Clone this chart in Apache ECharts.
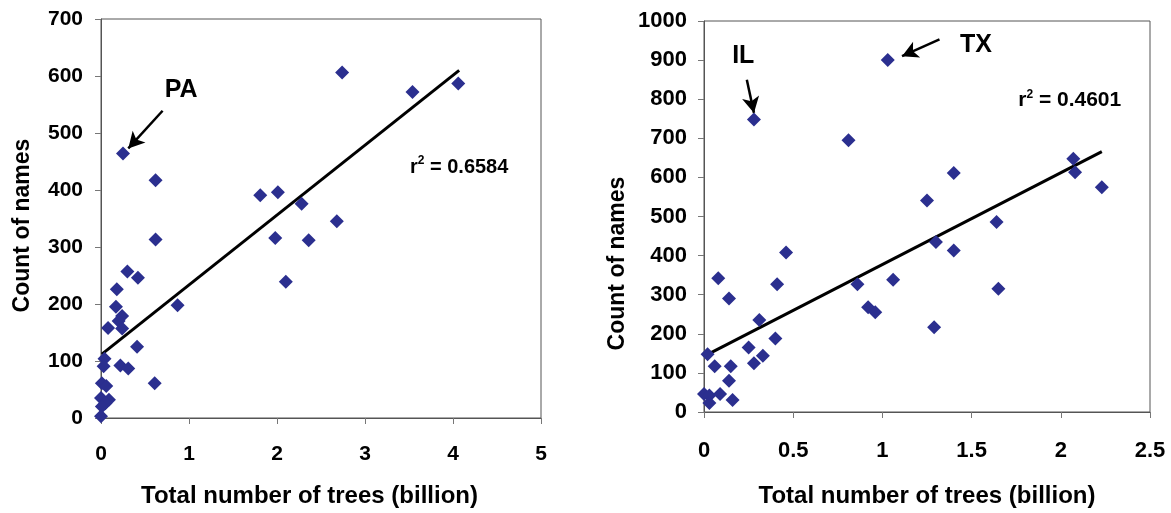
<!DOCTYPE html>
<html>
<head>
    <meta charset="utf-8">
    <title>Count of names vs total number of trees</title>
    <script src="https://cdn.jsdelivr.net/npm/echarts@6/dist/echarts.min.js"></script>
    <style>
        html, body { margin: 0; padding: 0; background: #fff; }
    </style>
</head>
<body>
    <div id="main" style="width: 1171px;height:513px;"></div>
    <script>
        // left panel data (billion trees, count of names)
        var leftTrees = [0.25, 0.62, 0.62, 1.81, 2.01, 1.98, 2.28, 2.74, 3.54, 4.06, 2.36, 2.68,
                         2.10, 0.87, 0.61, 0.30, 0.42, 0.18, 0.17, 0.24, 0.20, 0.24, 0.08, 0.41,
                         0.22, 0.31, 0.04, 0.03, 0.01, 0.06, 0.00, 0.09, 0.05, 0.01, 0.00];
        var leftNames = [464, 417, 313, 391, 396, 316, 376, 606, 572, 587, 312, 345,
                         239, 198, 61, 257, 246, 226, 195, 179, 170, 157, 158, 125,
                         92, 87, 104, 91, 61, 56, 35, 32, 26, 20, 3];
        var leftFitTrees = [0.01, 4.07];
        var leftFitNames = [112, 610];

        // right panel data
        var rightTrees = [0.00, 0.03, 0.03, 0.09, 0.16, 0.14, 0.06, 0.15, 0.02, 0.08, 0.14, 0.25,
                          0.28, 0.33, 0.31, 0.40, 0.41, 0.46, 0.28, 1.03, 0.81, 1.40, 1.25, 2.07,
                          2.08, 2.23, 1.64, 1.30, 1.40, 0.86, 1.06, 0.92, 0.96, 1.65, 1.29];
        var rightNames = [46, 42, 23, 46, 31, 80, 117, 117, 148, 342, 290, 165,
                          125, 144, 235, 188, 327, 408, 748, 900, 695, 611, 541, 648,
                          613, 575, 486, 435, 413, 327, 338, 268, 255, 315, 217];
        var rightFitTrees = [0.01, 2.23];
        var rightFitNames = [145, 666];

        var leftXTicks = [0, 5, 1];
        var leftYTicks = [0, 700, 100];
        var rightXTicks = [0, 2.5, 0.5];
        var rightYTicks = [0, 1000, 100];

        // annotations (data units)
        var leftR2 = '0.6584';
        var rightR2 = '0.4601';
        var leftTexts = [[0.91, 576, 'PA'], [4.07, 442, 'r2']];
        var rightTexts = [[0.22, 910, 'IL'], [1.525, 938, 'TX'], [2.05, 799, 'r2']];
        var leftArrows = [[[0.70, 539], [0.31, 473]]];
        var rightArrows = [[[0.24, 850], [0.28, 765]], [[1.32, 953], [1.11, 910]]];

        var FONT = 'Liberation Sans, Arial, sans-serif';
        var DOT = '#2b2f8f';

        function pairs(xs, ys) {
            return xs.map(function (x, i) { return [x, ys[i]]; });
        }

        function plain(v) { return String(v); }

        function xAxisOf(idx, ticks, labelSize, margin, gap, pad) {
            return {
                gridIndex: idx, type: 'value',
                min: ticks[0], max: ticks[1], interval: ticks[2],
                name: 'Total number of trees (billion)',
                nameLocation: 'middle', nameGap: gap,
                nameTextStyle: { fontFamily: FONT, fontWeight: 'bold', fontSize: 24, color: '#000', padding: pad },
                axisLine: { onZero: false, lineStyle: { color: '#555', width: 1 } },
                axisTick: { show: true, inside: false, length: 6, lineStyle: { color: '#777' } },
                axisLabel: { fontFamily: FONT, fontWeight: 'bold', fontSize: labelSize, color: '#000', margin: margin, formatter: plain },
                splitLine: { show: false }
            };
        }

        function yAxisOf(idx, ticks, labelSize, margin, gap, pad) {
            return {
                gridIndex: idx, type: 'value',
                min: ticks[0], max: ticks[1], interval: ticks[2],
                name: 'Count of names',
                nameLocation: 'middle', nameGap: gap,
                nameTextStyle: { fontFamily: FONT, fontWeight: 'bold', fontSize: 23, color: '#000', padding: pad },
                axisLine: { onZero: false, lineStyle: { color: '#555', width: 1 } },
                axisTick: { show: true, inside: false, length: 6, lineStyle: { color: '#777' } },
                axisLabel: { fontFamily: FONT, fontWeight: 'bold', fontSize: labelSize, color: '#000', margin: margin, formatter: plain },
                splitLine: { show: false }
            };
        }

        function textSeries(idx, items, r2, size) {
            return {
                type: 'scatter', xAxisIndex: idx, yAxisIndex: idx,
                silent: true, symbolSize: 0, z: 5,
                itemStyle: { opacity: 1 },
                data: items,
                label: {
                    show: true, position: 'inside',
                    color: '#000', textBorderWidth: 0,
                    formatter: function (p) {
                        if (p.value[2] === 'r2') return '{b|r}{s|2}{b| = ' + r2 + '}';
                        return '{n|' + p.value[2] + '}';
                    },
                    rich: {
                        n: { fontFamily: FONT, fontWeight: 'bold', fontSize: 25, color: '#000', textBorderWidth: 0 },
                        b: { fontFamily: FONT, fontWeight: 'bold', fontSize: size, color: '#000', textBorderWidth: 0, lineHeight: 22, verticalAlign: 'bottom' },
                        s: { fontFamily: FONT, fontWeight: 'bold', fontSize: 12, color: '#000', textBorderWidth: 0, lineHeight: 22, verticalAlign: 'top' }
                    }
                }
            };
        }

        function arrowSeries(idx, arrows) {
            return {
                type: 'line', xAxisIndex: idx, yAxisIndex: idx,
                data: [], silent: true,
                markLine: {
                    silent: true, animation: false,
                    symbol: ['none', 'arrow'], symbolSize: [13, 16],
                    label: { show: false },
                    lineStyle: { color: '#000', width: 2.5, type: 'solid', opacity: 1 },
                    data: arrows.map(function (a) { return [{ coord: a[0] }, { coord: a[1] }]; })
                }
            };
        }

        function fitSeries(idx, xs, ys) {
            return {
                type: 'line', xAxisIndex: idx, yAxisIndex: idx,
                data: pairs(xs, ys), showSymbol: false, silent: true, z: 3,
                lineStyle: { color: '#000', width: 3 }
            };
        }

        function dotSeries(idx, xs, ys) {
            return {
                type: 'scatter', xAxisIndex: idx, yAxisIndex: idx,
                data: pairs(xs, ys), symbol: 'diamond', symbolSize: 14, z: 4,
                itemStyle: { color: DOT, opacity: 1 }
            };
        }

        var myChart = echarts.init(document.getElementById('main'));

        var option = {
            backgroundColor: '#fff',
            animation: false,
            grid: [
                { left: 101, top: 19, width: 440, height: 404, show: true, borderColor: '#555', borderWidth: 1, backgroundColor: 'transparent' },
                { left: 704, top: 21, width: 446, height: 394, show: true, borderColor: '#555', borderWidth: 1, backgroundColor: 'transparent' }
            ],
            xAxis: [
                xAxisOf(0, leftXTicks, 21, 26, 66, [0, 23, 0, 0]),
                xAxisOf(1, rightXTicks, 22, 28, 72, [0, 0, 0, 0])
            ],
            yAxis: [
                yAxisOf(0, leftYTicks, 21, 18, 67, [0, 14, 0, 0]),
                yAxisOf(1, rightYTicks, 22, 17, 75, [0, 94, 0, 0])
            ],
            series: [
                fitSeries(0, leftFitTrees, leftFitNames),
                dotSeries(0, leftTrees, leftNames),
                arrowSeries(0, leftArrows),
                textSeries(0, leftTexts, leftR2, 20),
                fitSeries(1, rightFitTrees, rightFitNames),
                dotSeries(1, rightTrees, rightNames),
                arrowSeries(1, rightArrows),
                textSeries(1, rightTexts, rightR2, 21)
            ]
        };

        myChart.setOption(option);
    </script>
</body>
</html>
